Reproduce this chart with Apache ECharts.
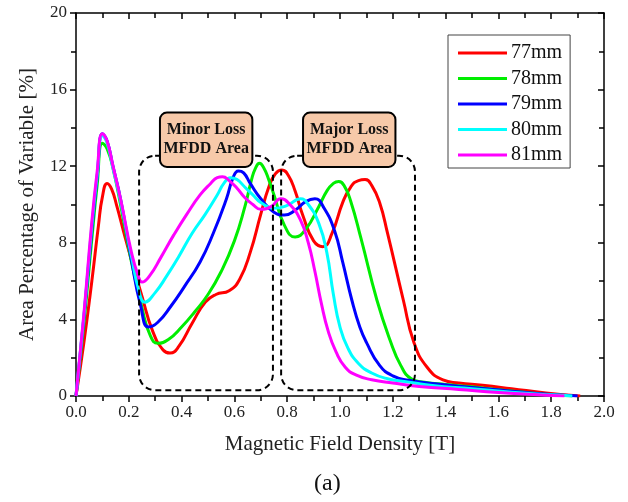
<!DOCTYPE html>
<html><head><meta charset="utf-8">
<script src="https://cdn.jsdelivr.net/npm/echarts@6/dist/echarts.min.js"></script>
<style>html,body{margin:0;padding:0;background:#fff}#c{width:628px;height:502px}</style>
</head><body><div id="c"></div>
<script>
var seriesNames = ['77mm','78mm','79mm','80mm','81mm'];
var seriesColors = ['#ff0000','#00ee00','#0000ff','#00ffff','#ff00ff'];
var data77 = [[0,0],[0.03,2.8],[0.06,6.0],[0.085,8.9],[0.10,10.4],[0.118,11.1],[0.135,10.8],[0.155,9.9],[0.18,8.6],[0.21,7.1],[0.25,5.2],[0.29,3.4],[0.33,2.4],[0.356,2.24],[0.39,2.6],[0.44,3.8],[0.49,4.9],[0.53,5.3],[0.58,5.5],[0.62,6.1],[0.66,7.5],[0.70,9.5],[0.73,10.9],[0.755,11.6],[0.78,11.8],[0.805,11.5],[0.83,10.7],[0.86,9.4],[0.90,8.1],[0.935,7.8],[0.97,8.5],[1.01,10.1],[1.04,10.9],[1.07,11.25],[1.095,11.3],[1.12,11.0],[1.15,10.1],[1.18,8.5],[1.24,5.0],[1.28,2.8],[1.33,1.5],[1.39,0.84],[1.45,0.68],[1.54,0.56],[1.65,0.38],[1.78,0.16],[1.91,0]];
var data78 = [[0,0],[0.03,3.8],[0.06,8.2],[0.08,11.0],[0.10,13.2],[0.118,12.9],[0.14,11.9],[0.17,9.9],[0.21,7.0],[0.25,4.6],[0.28,3.2],[0.31,2.75],[0.35,2.95],[0.40,3.6],[0.45,4.4],[0.50,5.3],[0.55,6.5],[0.60,8.1],[0.64,9.9],[0.665,11.3],[0.68,11.9],[0.695,12.15],[0.71,11.95],[0.73,11.3],[0.75,10.5],[0.79,8.9],[0.83,8.3],[0.87,8.7],[0.92,9.9],[0.95,10.7],[0.975,11.1],[0.995,11.2],[1.015,11.0],[1.04,10.2],[1.08,8.2],[1.14,5.0],[1.19,2.9],[1.23,1.6],[1.27,0.9],[1.32,0.72],[1.40,0.6],[1.50,0.48],[1.62,0.3],[1.75,0.12],[1.88,0]];
var data79 = [[0,0],[0.03,4.1],[0.06,8.7],[0.08,11.4],[0.10,13.7],[0.118,13.3],[0.14,12.0],[0.17,10.2],[0.21,7.1],[0.245,4.7],[0.275,3.6],[0.31,3.85],[0.36,4.7],[0.41,5.7],[0.47,7.0],[0.52,8.5],[0.57,10.3],[0.595,11.4],[0.615,11.75],[0.635,11.65],[0.66,11.1],[0.70,10.3],[0.75,9.6],[0.79,9.45],[0.83,9.7],[0.87,10.15],[0.905,10.3],[0.94,9.8],[0.98,8.6],[1.01,7.0],[1.045,5.0],[1.075,3.6],[1.10,2.8],[1.15,1.6],[1.20,1.05],[1.26,0.82],[1.35,0.65],[1.50,0.45],[1.65,0.25],[1.80,0.08],[1.90,0]];
var data80 = [[0,0],[0.03,4.2],[0.06,8.9],[0.08,11.5],[0.10,13.6],[0.118,13.2],[0.14,11.9],[0.17,10.1],[0.21,7.3],[0.24,5.4],[0.26,4.9],[0.30,5.4],[0.345,6.3],[0.39,7.3],[0.44,8.5],[0.49,9.5],[0.535,10.5],[0.56,11.1],[0.585,11.4],[0.61,11.3],[0.64,10.9],[0.67,10.5],[0.70,10.1],[0.75,9.8],[0.80,9.95],[0.85,10.3],[0.88,10.0],[0.92,9.0],[0.95,7.5],[0.975,5.3],[1.0,3.6],[1.03,2.5],[1.07,1.7],[1.12,1.2],[1.18,0.9],[1.25,0.75],[1.35,0.55],[1.50,0.38],[1.65,0.2],[1.80,0.06],[1.88,0]];
var data81 = [[0,0],[0.03,4.3],[0.06,9.1],[0.08,11.7],[0.10,13.7],[0.118,13.3],[0.14,12.0],[0.17,10.2],[0.21,7.5],[0.235,6.3],[0.25,5.95],[0.28,6.3],[0.32,7.2],[0.37,8.4],[0.42,9.5],[0.47,10.5],[0.51,11.1],[0.535,11.4],[0.555,11.45],[0.58,11.25],[0.61,10.85],[0.64,10.35],[0.67,10.0],[0.70,9.75],[0.74,9.9],[0.775,10.3],[0.81,10.0],[0.85,9.2],[0.88,8.0],[0.905,6.5],[0.93,4.8],[0.955,3.4],[0.985,2.3],[1.02,1.5],[1.06,1.1],[1.12,0.85],[1.20,0.68],[1.30,0.5],[1.45,0.34],[1.60,0.18],[1.75,0.06],[1.85,0]];
var allData = [data77, data78, data79, data80, data81];

var FONT = '"Liberation Serif", "Times New Roman", serif';
var chart = echarts.init(document.getElementById('c'), null, {renderer: 'canvas'});

var axisLineStyle = {color: '#000', width: 1.5};
var option = {
  animation: false,
  backgroundColor: '#fff',
  grid: {left: 76, right: 24, top: 13, bottom: 106},
  legend: {
    orient: 'vertical', left: 448, top: 35,
    padding: [8, 8, 3, 10], itemGap: 5.5,
    itemWidth: 49, itemHeight: 3, icon: 'rect',
    borderColor: '#444', borderWidth: 1, backgroundColor: '#fff',
    textStyle: {fontFamily: FONT, fontSize: 20, color: '#111', padding: [0,0,0,-1]},
    data: seriesNames
  },
  xAxis: [{
    type: 'value', min: 0, max: 2, interval: 0.2,
    name: 'Magnetic Field Density [T]', nameLocation: 'middle', nameGap: 38,
    nameTextStyle: {fontFamily: FONT, fontSize: 21, color: '#222'},
    axisLine: {show: true, onZero: false, lineStyle: axisLineStyle},
    axisTick: {show: true, inside: false, length: 6, lineStyle: {color: '#000', width: 1.5}},
    minorTick: {show: true, splitNumber: 2, length: 5, lineStyle: {color: '#000', width: 1.5}},
    axisLabel: {fontFamily: FONT, fontSize: 17, color: '#222', margin: 8, formatter: function(v){return v.toFixed(1);}},
    splitLine: {show: false}
  }, {
    type: 'value', min: 0, max: 2, interval: 0.2, position: 'top',
    axisLine: {show: true, onZero: false, lineStyle: axisLineStyle},
    axisTick: {show: true, inside: true, length: 6, lineStyle: {color: '#000', width: 1.5}},
    minorTick: {show: true, splitNumber: 2, length: 5, lineStyle: {color: '#000', width: 1.5}},
    axisLabel: {show: false}, splitLine: {show: false}
  }],
  yAxis: [{
    type: 'value', min: 0, max: 20, interval: 4,
    name: 'Area Percentage of Variable [%]', nameLocation: 'middle', nameGap: 38,
    nameTextStyle: {fontFamily: FONT, fontSize: 21, color: '#222'},
    axisLine: {show: true, onZero: false, lineStyle: axisLineStyle},
    axisTick: {show: true, inside: false, length: 6, lineStyle: {color: '#000', width: 1.5}},
    minorTick: {show: true, splitNumber: 2, length: 5, lineStyle: {color: '#000', width: 1.5}},
    axisLabel: {fontFamily: FONT, fontSize: 17, color: '#222', margin: 9},
    splitLine: {show: false}
  }, {
    type: 'value', min: 0, max: 20, interval: 4, position: 'right',
    axisLine: {show: true, onZero: false, lineStyle: axisLineStyle},
    axisTick: {show: true, inside: true, length: 6, lineStyle: {color: '#000', width: 1.5}},
    minorTick: {show: true, splitNumber: 2, length: 5, lineStyle: {color: '#000', width: 1.5}},
    axisLabel: {show: false}, splitLine: {show: false}
  }],
  series: seriesNames.map(function(n, i){
    return {
      name: n, type: 'line', data: allData[i], xAxisIndex: 0, yAxisIndex: 0,
      smooth: 0.5, showSymbol: false, symbol: 'none',
      lineStyle: {width: 3, color: seriesColors[i]}, itemStyle: {color: seriesColors[i]},
      z: 3 + i
    };
  })
};
chart.setOption(option);

// Annotation regions (data coordinates)
var dashRegions = [[0.239, 12.55, 0.746, 0.3], [0.777, 12.55, 1.284, 0.3]];
var labelBoxes = [[0.318, 14.8, 0.668, 11.96, 'Minor Loss\nMFDD Area'], [0.860, 14.8, 1.210, 11.96, 'Major Loss\nMFDD Area']];
var g = [];
dashRegions.forEach(function(r){
  var p1 = chart.convertToPixel({gridIndex: 0}, [r[0], r[1]]);
  var p2 = chart.convertToPixel({gridIndex: 0}, [r[2], r[3]]);
  g.push({type: 'rect', z: 10, silent: true,
    shape: {x: p1[0], y: p1[1], width: p2[0]-p1[0], height: p2[1]-p1[1], r: 16},
    style: {fill: 'none', stroke: '#000', lineWidth: 2, lineDash: [6, 4]}});
});
labelBoxes.forEach(function(b){
  var p1 = chart.convertToPixel({gridIndex: 0}, [b[0], b[1]]);
  var p2 = chart.convertToPixel({gridIndex: 0}, [b[2], b[3]]);
  g.push({type: 'rect', z: 11, silent: true,
    shape: {x: p1[0], y: p1[1], width: p2[0]-p1[0], height: p2[1]-p1[1], r: 7},
    style: {fill: '#f7c9a9', stroke: '#000', lineWidth: 2}});
  g.push({type: 'text', z: 12, silent: true,
    x: (p1[0]+p2[0])/2, y: (p1[1]+p2[1])/2,
    style: {text: b[4], fontFamily: FONT, fontWeight: 'bold', fontSize: 16, lineHeight: 19,
      fill: '#111', align: 'center', verticalAlign: 'middle'}});
});
g.push({type: 'text', left: 314, top: 472, silent: true,
  style: {text: '(a)', fontFamily: FONT, fontSize: 24, fill: '#111'}});
chart.setOption({graphic: g});
</script></body></html>
